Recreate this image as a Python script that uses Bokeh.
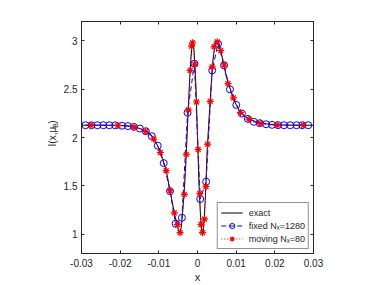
from bokeh.plotting import figure
from bokeh.layouts import row
from bokeh.models import LinearAxis, FixedTicker, Label, Legend, LegendItem, Range1d
from bokeh.embed import file_html
from bokeh.resources import INLINE

# ---- data ----
exact_x = [-0.03, -0.025, -0.02, -0.018, -0.016, -0.014, -0.013, -0.012, -0.011, -0.010,
           -0.009, -0.008, -0.007, -0.006, -0.0055, -0.005, -0.0046, -0.0042, -0.004, -0.0035,
           -0.003, -0.0025, -0.002, -0.0017, -0.0014, -0.0012, -0.001, -0.0007, -0.0004, 0.0,
           0.0004, 0.0008, 0.0011, 0.0013, 0.0016, 0.002, 0.0025, 0.003, 0.0035, 0.004,
           0.0045, 0.005, 0.0053, 0.0058, 0.0065, 0.0075, 0.0085, 0.0095, 0.011, 0.013,
           0.015, 0.018, 0.021, 0.025, 0.03]
exact_y = [2.127, 2.127, 2.125, 2.12, 2.107, 2.08, 2.058, 2.03, 1.965, 1.89,
           1.78, 1.64, 1.43, 1.22, 1.13, 1.05, 1.0, 1.07, 1.15, 1.40,
           1.75, 2.2, 2.62, 2.82, 2.96, 3.0, 2.96, 2.77, 2.52, 2.0,
           1.5, 1.17, 1.04, 1.0, 1.07, 1.35, 1.86, 2.2, 2.52, 2.8,
           2.95, 3.0, 3.0, 2.94, 2.81, 2.62, 2.50, 2.38, 2.265, 2.195,
           2.165, 2.14, 2.13, 2.127, 2.127]

fixed_x = [-0.02897, -0.02743, -0.02589, -0.02434, -0.0228, -0.02126, -0.01954, -0.018,
           -0.01646, -0.01491, -0.01337, -0.01183, -0.01029, -0.00874, -0.00711, -0.00566,
           -0.00403, -0.00257, -0.0008, 0.0007, 0.00223, 0.0038, 0.00531, 0.00686,
           0.0084, 0.01003, 0.01149, 0.01303, 0.01457, 0.01611, 0.01774, 0.01929,
           0.02083, 0.02237, 0.024, 0.02563, 0.02709, 0.02863]
fixed_y = [2.127, 2.127, 2.127, 2.127, 2.127, 2.126, 2.122, 2.118,
           2.11, 2.093, 2.065, 2.014, 1.915, 1.735, 1.445, 1.108,
           1.17, 2.256, 2.763, 1.363, 1.543, 2.694, 2.969, 2.746,
           2.498, 2.337, 2.247, 2.192, 2.162, 2.148, 2.137, 2.131,
           2.128, 2.127, 2.127, 2.127, 2.127, 2.127]

moving_x = [-0.0276, -0.0206, -0.0164, -0.0134, -0.0113, -0.0096, -0.0081, -0.0071,
            -0.006, -0.0052, -0.0045, -0.0034, -0.0029, -0.0024, -0.0019, -0.00155,
            -0.0013, -0.0007, -0.00026, 0.00016, 0.0006, 0.0009, 0.0013, 0.0018,
            0.0022, 0.0026, 0.0033, 0.0038, 0.0043, 0.0051, 0.006, 0.0069,
            0.0079, 0.0093, 0.0111, 0.0133, 0.0162, 0.0206, 0.0274]
moving_y = [2.127, 2.125, 2.108, 2.062, 1.983, 1.845, 1.658, 1.447,
            1.22, 1.10, 1.015, 1.412, 1.825, 2.285, 2.694, 2.945,
            2.98, 2.76, 2.367, 1.877, 1.423, 1.10, 1.015, 1.155,
            1.491, 1.931, 2.374, 2.73, 2.94, 2.99, 2.90, 2.75,
            2.557, 2.41, 2.258, 2.19, 2.145, 2.128, 2.127]

x_ticks = [-0.03, -0.02, -0.01, 0, 0.01, 0.02, 0.03]
x_tick_labels = ["-0.03", "-0.02", "-0.01", "0", "0.01", "0.02", "0.03"]
y_ticks = [1, 1.5, 2, 2.5, 3]
y_tick_labels = ["1", "1.5", "2", "2.5", "3"]

labels = ["exact", "fixed N\u2093=1280", "moving N\u2093=80"]
y_title = ["I(x,\u03bc", "B", ")"]

FONT = "Liberation Sans"
AX = "#262626"

p = figure(width=320, height=285, x_range=Range1d(-0.03, 0.03), y_range=Range1d(0.8, 3.2),
           output_backend="svg", toolbar_location=None,
           min_border_left=20, min_border_right=67, min_border_top=21, min_border_bottom=32,
           background_fill_color="white", border_fill_color="white")
p.xgrid.visible = False
p.ygrid.visible = False
p.outline_line_color = AX
p.outline_line_width = 1


def style_axis(ax, ticks, tick_labels, show_labels=True):
    ax.ticker = FixedTicker(ticks=ticks)
    ax.axis_line_color = AX
    ax.major_tick_line_color = AX
    ax.major_tick_in = 3
    ax.major_tick_out = 0
    ax.minor_tick_line_color = None
    ax.major_label_text_font = FONT
    ax.major_label_text_color = AX
    if show_labels:
        ax.major_label_overrides = {t: s for t, s in zip(ticks, tick_labels)}
        ax.major_label_text_font_size = "10px"
    else:
        ax.major_label_overrides = {t: "" for t in ticks}
        ax.major_label_text_font_size = "0px"
        ax.major_label_standoff = 0


style_axis(p.xaxis[0], x_ticks, x_tick_labels)
p.xaxis[0].major_label_standoff = 5
p.xaxis[0].axis_label = "x"
p.xaxis[0].axis_label_text_font = FONT
p.xaxis[0].axis_label_text_font_size = "11px"
p.xaxis[0].axis_label_text_font_style = "normal"
p.xaxis[0].axis_label_text_color = AX
p.xaxis[0].axis_label_standoff = 1
style_axis(p.yaxis[0], y_ticks, y_tick_labels)
p.yaxis[0].major_label_standoff = 4

top = LinearAxis()
style_axis(top, x_ticks, x_tick_labels, show_labels=False)
p.add_layout(top, "above")
right = LinearAxis()
style_axis(right, y_ticks, y_tick_labels, show_labels=False)
p.add_layout(right, "right")

r_exact = p.line(exact_x, exact_y, line_color="black", line_width=1)
r_fl = p.line(fixed_x, fixed_y, line_color="#0000ff", line_width=1, line_dash="5 3")
r_fm = p.scatter(fixed_x, fixed_y, marker="circle", size=7, fill_color=None,
                 line_color="#0000ff", line_width=1)
r_ml = p.line(moving_x, moving_y, line_color="#ff0000", line_width=1, line_dash="1 2")
r_mm = p.scatter(moving_x, moving_y, marker="asterisk", size=7,
                 line_color="#ff0000", line_width=1.2)

legend = Legend(items=[LegendItem(label=labels[0], renderers=[r_exact]),
                       LegendItem(label=labels[1], renderers=[r_fl, r_fm]),
                       LegendItem(label=labels[2], renderers=[r_ml, r_mm])],
                location="bottom_right")
legend.label_text_font = FONT
legend.label_text_font_size = "9px"
legend.label_text_color = AX
legend.border_line_color = AX
legend.border_line_width = 1
legend.padding = 3
legend.spacing = 0
legend.margin = 4
legend.glyph_width = 22
legend.glyph_height = 13
legend.label_height = 13
legend.label_standoff = 6
legend.background_fill_alpha = 1
p.add_layout(legend, "center")

# narrow side panel holding the y title (with subscript) as real text
lf = figure(width=60, height=285, x_range=Range1d(0, 60), y_range=Range1d(0, 285),
            output_backend="svg", toolbar_location=None, min_border=0,
            background_fill_color="white", border_fill_color="white")
lf.axis.visible = False
lf.grid.visible = False
lf.outline_line_color = None
for txt, xx, yy, fs in [(y_title[0], 51.7, 131.5, "10px"), (y_title[1], 54.7, 154.5, "7px"),
                        (y_title[2], 51.7, 159.5, "10px")]:
    lf.add_layout(Label(x=xx, y=yy, text=txt, angle=1.5708, text_align="left",
                        text_baseline="middle", text_font=FONT, text_font_size=fs,
                        text_color=AX))

layout = row(lf, p)
open("out.html", "w").write(file_html(layout, INLINE))
